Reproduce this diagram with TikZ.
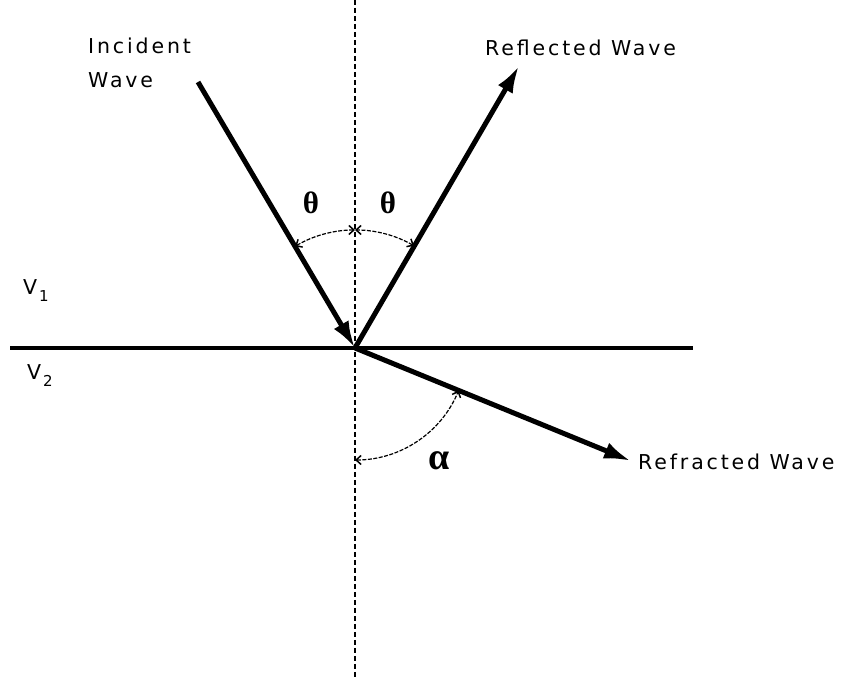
\documentclass[tikz,border=0pt]{standalone}
\usepackage{fontspec}
\setmainfont{DejaVu Sans}
\newfontfamily\greekfont{Liberation Serif}
\usetikzlibrary{arrows.meta}
\begin{document}
\begin{tikzpicture}[x=1pt,y=1pt,
  wave/.style={line width=5pt,-{Latex[length=27pt,width=17pt]}},
  anglearc/.style={line width=1.2pt,dash pattern=on 4pt off 1.5pt,{Straight Barb[length=5pt,width=9pt,line width=1.5pt]}-{Straight Barb[length=5pt,width=9pt,line width=1.5pt]}},
  lbl/.style={inner sep=0pt,anchor=base west,font=\fontsize{20.5}{20.5}\selectfont\addfontfeature{LetterSpace=14}},
  greek/.style={inner sep=0pt,font=\greekfont\bfseries}]
\useasboundingbox (0,0) rectangle (847,679);
% axes
\coordinate (O) at (355,331);
\coordinate (top) at (355,679);
\coordinate (bot) at (355,0);
\coordinate (hl) at (10,331);
\coordinate (hr) at (693,331);
\draw[line width=1.5pt,dash pattern=on 5pt off 3pt] (top) -- (bot);
\draw[line width=3.8pt] (hl) -- (hr);
% rays
\coordinate (inc) at (198,597);
\coordinate (refl) at (519,613);
\coordinate (refr) at (631,218);
\draw[wave] (inc) -- (O);
\draw[wave] (O) -- (refl);
\draw[wave] (O) -- (refr);
% angle arcs
\draw[anglearc] ([shift={(90:118)}]O) arc[start angle=90,end angle=120.5,radius=118];
\draw[anglearc] ([shift={(60:118)}]O) arc[start angle=60,end angle=90,radius=118];
\draw[anglearc] ([shift={(-90:112)}]O) arc[start angle=-90,end angle=-22.3,radius=112];
% labels
\node[lbl] (incident) at (88,625) {Incident};
\node[lbl] (incwave) at (88,591) {Wave};
\node[lbl] (reflected) at (485,623) {Reflected Wave};
\node[lbl] (refracted) at (638,209) {Refracted Wave};
\node[lbl] (v1) at (23,384) {V\hspace{2pt}\raisebox{-7pt}{\fontsize{15}{15}\selectfont 1}};
\node[lbl] (v2) at (27,299) {V\hspace{2pt}\raisebox{-7pt}{\fontsize{15}{15}\selectfont 2}};
\node[greek,font=\fontsize{31}{31}\selectfont\greekfont\bfseries] (th1) at (311,476) {θ};
\node[greek,font=\fontsize{31}{31}\selectfont\greekfont\bfseries] (th2) at (388,476) {θ};
\node[greek,font=\fontsize{38}{38}\selectfont\greekfont\bfseries] (al) at (439,218) {α};
\end{tikzpicture}
\end{document}
